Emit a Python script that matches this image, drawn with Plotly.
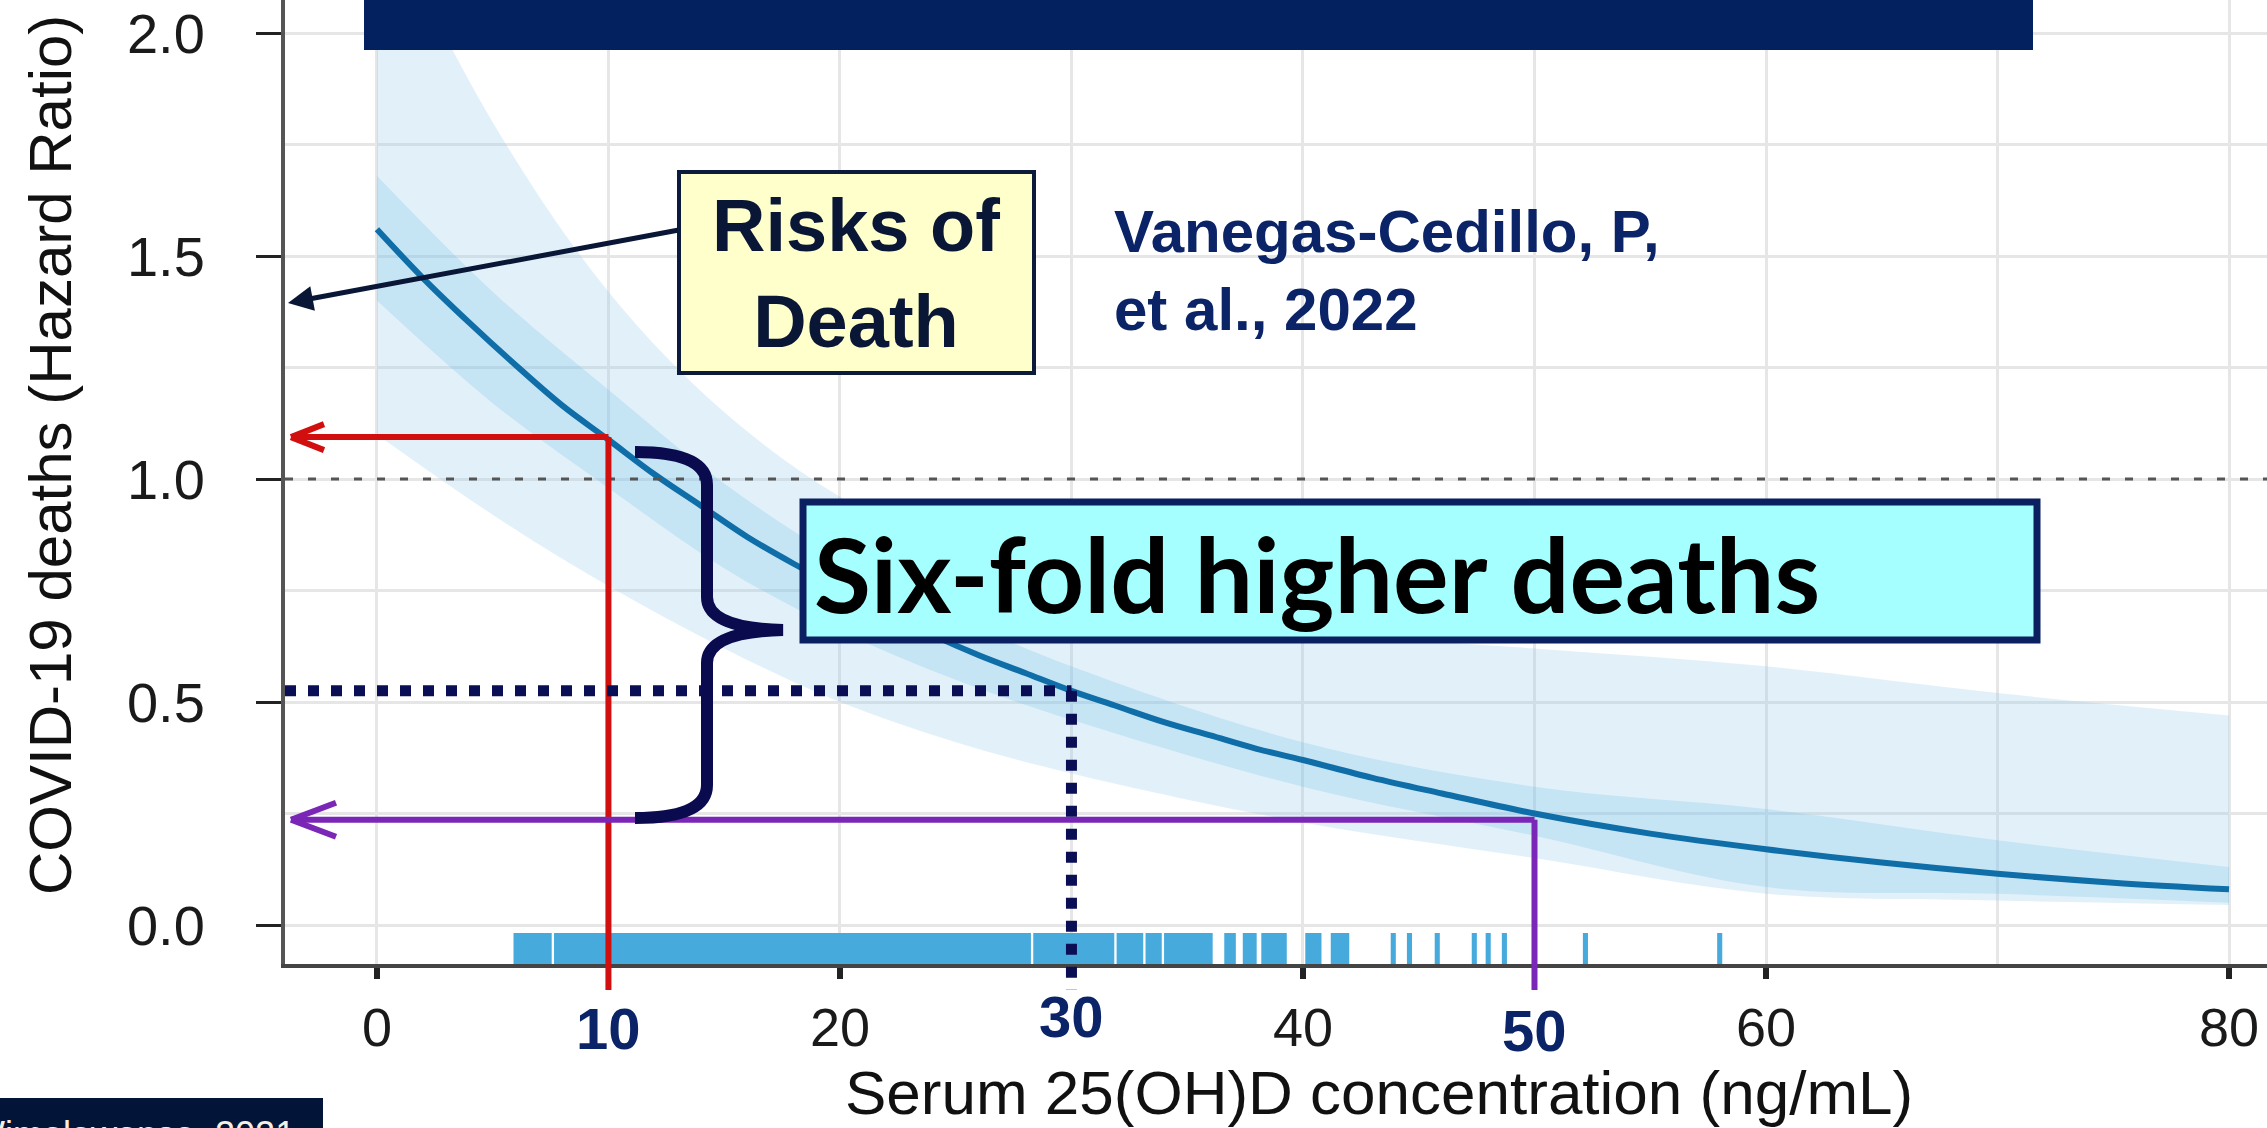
import plotly.graph_objects as go

# fitted curve (hazard ratio)
serum = [0, 2, 4, 6, 8, 10, 12, 14, 16, 18, 20, 22, 24, 26, 28, 30, 32, 34, 36, 38, 40, 43, 46, 50, 55, 60, 65, 70, 75, 80]
hr = [1.56, 1.45, 1.35, 1.255, 1.165, 1.088, 1.01, 0.94, 0.87, 0.81, 0.755, 0.70, 0.65, 0.605, 0.565, 0.525,
      0.49, 0.455, 0.425, 0.395, 0.37, 0.33, 0.295, 0.25, 0.205, 0.17, 0.14, 0.115, 0.095, 0.08]

# confidence bands
band_x = [0, 5, 10, 15, 20, 25, 30, 40, 50, 60, 70, 80]
outer_hi = [2.30, 1.80, 1.42, 1.15, 0.96, 0.83, 0.74, 0.66, 0.62, 0.58, 0.52, 0.47]
outer_lo = [1.10, 0.92, 0.76, 0.62, 0.50, 0.41, 0.34, 0.23, 0.15, 0.07, 0.055, 0.045]
inner_hi = [1.68, 1.42, 1.20, 0.99, 0.82, 0.69, 0.58, 0.41, 0.31, 0.26, 0.19, 0.13]
inner_lo = [1.40, 1.17, 0.98, 0.80, 0.66, 0.55, 0.46, 0.31, 0.20, 0.085, 0.07, 0.05]

# rug of observed concentrations (dense stretches + single ticks)
rug_start = [5.9, 7.65, 28.35, 31.95, 33.2, 34.0, 36.6, 37.4, 38.2, 40.1, 41.2]
rug_end = [7.55, 28.25, 31.85, 33.1, 33.9, 36.1, 37.1, 38.0, 39.3, 40.8, 42.0]
rug_single = [43.9, 44.6, 45.8, 47.4, 48.0, 48.7, 52.2, 58.0]

x_ticks = [0, 20, 40, 60, 80]
x_marks = [10, 30, 50]
hr_at_mark = {10: 1.094, 30: 0.525, 50: 0.236}

W, H = 2267, 1128
PL, PR, PT, PB = 285, 2267, 0, 964
X_RANGE = [-3.97, 81.64]
Y_RANGE = [-0.0874, 2.074]


def px_x(p):
    return X_RANGE[0] + (p - PL) / (PR - PL) * (X_RANGE[1] - X_RANGE[0])


def px_y(p):
    return Y_RANGE[1] - (p - PT) / (PB - PT) * (Y_RANGE[1] - Y_RANGE[0])


def pap_x(p):
    return (p - PL) / (PR - PL)


def pap_y(p):
    return (PB - p) / (PB - PT)


def yv_pap(v):
    return (v - Y_RANGE[0]) / (Y_RANGE[1] - Y_RANGE[0])


FONT = "Liberation Sans, Arial, sans-serif"
NAVY = "#0b2468"

fig = go.Figure()

fig.add_trace(go.Scatter(x=band_x, y=outer_hi, mode="lines", line=dict(width=0, shape="spline"), hoverinfo="skip"))
fig.add_trace(go.Scatter(x=band_x, y=outer_lo, mode="lines", line=dict(width=0, shape="spline"),
                         fill="tonexty", fillcolor="rgba(150,205,235,0.28)", hoverinfo="skip"))
fig.add_trace(go.Scatter(x=band_x, y=inner_hi, mode="lines", line=dict(width=0, shape="spline"), hoverinfo="skip"))
fig.add_trace(go.Scatter(x=band_x, y=inner_lo, mode="lines", line=dict(width=0, shape="spline"),
                         fill="tonexty", fillcolor="rgba(120,195,235,0.27)", hoverinfo="skip"))

# rug
rug_top = px_y(933)
centers = [(a + b) / 2 for a, b in zip(rug_start, rug_end)] + rug_single
widths = [b - a for a, b in zip(rug_start, rug_end)] + [0.22] * len(rug_single)
fig.add_trace(go.Bar(x=centers, y=[rug_top - Y_RANGE[0]] * len(centers), base=Y_RANGE[0], width=widths,
                     marker=dict(color="#47aadd", line=dict(width=0)), hoverinfo="skip"))

fig.add_trace(go.Scatter(x=serum, y=hr, mode="lines", line=dict(color="#0f6ea8", width=6, shape="spline")))

shapes = []
# reference line at HR = 1
shapes.append(dict(type="line", xref="paper", yref="y", x0=0, x1=1, y0=1, y1=1,
                   line=dict(color="#555", width=3, dash="8px,15px")))
# top banner
shapes.append(dict(type="rect", xref="paper", yref="paper", x0=pap_x(364), x1=pap_x(2033), y0=pap_y(50),
                   y1=pap_y(-5), fillcolor="#03215f", line=dict(width=0)))
# boxes
shapes.append(dict(type="rect", xref="x", yref="y", x0=px_x(679), x1=px_x(1034), y0=px_y(373), y1=px_y(172),
                   fillcolor="#ffffcc", line=dict(color="#0c1a3c", width=4)))
shapes.append(dict(type="rect", xref="x", yref="y", x0=px_x(803), x1=px_x(2037), y0=px_y(640), y1=px_y(502),
                   fillcolor="#a6ffff", line=dict(color="#0a2060", width=7)))

bottom_px = 990
tip_x = px_x(291)
# red (10 ng/mL) and purple (50 ng/mL) read-offs with open arrowheads
for xv, col, lw, arm_dx, arm_dy in [(10, "#d10f0f", 6, 33, 13), (50, "#7a26b6", 6, 45, 17)]:
    yv = hr_at_mark[xv]
    shapes.append(dict(type="line", xref="x", yref="paper", x0=xv, x1=xv, y0=pap_y(bottom_px), y1=yv_pap(yv),
                       line=dict(color=col, width=lw)))
    shapes.append(dict(type="line", xref="x", yref="y", x0=tip_x, x1=xv, y0=yv, y1=yv,
                       line=dict(color=col, width=lw)))
    for s in (-1, 1):
        shapes.append(dict(type="line", xref="x", yref="y", x0=tip_x, y0=yv, x1=px_x(291 + arm_dx),
                           y1=yv + s * (Y_RANGE[1] - Y_RANGE[0]) * arm_dy / (PB - PT),
                           line=dict(color=col, width=lw)))

# navy dotted at 30 ng/mL
yv = hr_at_mark[30]
shapes.append(dict(type="line", xref="x", yref="y", x0=px_x(285), x1=30, y0=yv, y1=yv,
                   line=dict(color="#0a0f55", width=11, dash="11px,12px")))
shapes.append(dict(type="line", xref="x", yref="paper", x0=30, x1=30, y0=yv_pap(yv), y1=pap_y(bottom_px),
                   line=dict(color="#0a0f55", width=11, dash="11px,12px")))

# curly brace
pts = [(635, 452), (707, 452), (707, 485), (707, 597), (707, 628), (783, 630), (707, 632), (707, 663),
       (707, 785), (707, 818), (635, 818)]
c = [(px_x(a), px_y(b)) for a, b in pts]
path = ("M{0[0]},{0[1]} Q{1[0]},{1[1]} {2[0]},{2[1]} L{3[0]},{3[1]} Q{4[0]},{4[1]} {5[0]},{5[1]} "
        "Q{6[0]},{6[1]} {7[0]},{7[1]} L{8[0]},{8[1]} Q{9[0]},{9[1]} {10[0]},{10[1]}").format(*c)
shapes.append(dict(type="path", xref="x", yref="y", path=path, line=dict(color="#0a0a4e", width=12)))

# bottom-left source tag
shapes.append(dict(type="rect", xref="paper", yref="paper", x0=pap_x(-5), x1=pap_x(323), y0=pap_y(1140),
                   y1=pap_y(1098), fillcolor="#021539", line=dict(width=0)))

ann = []
ann.append(dict(xref="x", yref="y", x=px_x(288), y=px_y(303), ax=px_x(679), ay=px_y(230), axref="x", ayref="y",
                text="", showarrow=True, arrowhead=2, arrowsize=1, arrowwidth=5, arrowcolor="#0a1636"))
ann.append(dict(xref="x", yref="y", x=px_x(856), y=px_y(273), text="<b>Risks of<br>Death</b>", showarrow=False,
                xanchor="center", yanchor="middle", align="center",
                font=dict(family=FONT, size=74, color="#0a1636")))
ann.append(dict(xref="x", yref="y", x=px_x(1112), y=px_y(270), xanchor="left", yanchor="middle", align="left",
                showarrow=False, text="<b>Vanegas-Cedillo, P,<br>et al., 2022</b>",
                font=dict(family=FONT, size=60, color=NAVY)))
ann.append(dict(xref="x", yref="y", x=px_x(812), y=px_y(572), xanchor="left", yanchor="middle", showarrow=False,
                text="<b>Six-fold higher deaths</b>",
                font=dict(family="Lato, Noto Sans, sans-serif", size=104, color="#000000")))
for xv, ypx in zip(x_marks, [1028, 1016, 1030]):
    ann.append(dict(xref="x", yref="paper", x=xv, y=pap_y(ypx), xanchor="center", yanchor="middle",
                    showarrow=False, text="<b>%d</b>" % xv, font=dict(family=FONT, size=58, color=NAVY)))
ann.append(dict(xref="paper", yref="paper", x=pap_x(1379), y=pap_y(1092), xanchor="center", yanchor="middle",
                showarrow=False, text="Serum 25(OH)D concentration (ng/mL)",
                font=dict(family=FONT, size=62, color="#111")))
ann.append(dict(xref="paper", yref="paper", x=pap_x(50), y=pap_y(455), xanchor="center", yanchor="middle",
                showarrow=False, textangle=-90, text="COVID-19 deaths (Hazard Ratio)",
                font=dict(family=FONT, size=60, color="#111")))
ann.append(dict(xref="paper", yref="paper", x=pap_x(297), y=pap_y(1134), xanchor="right", yanchor="middle",
                showarrow=False, text="Wimalawansa, 2021", font=dict(family=FONT, size=36, color="#f5f0e1")))

fig.update_layout(
    width=W, height=H,
    margin=dict(l=PL, r=W - PR, t=PT, b=H - PB, autoexpand=False),
    plot_bgcolor="white", paper_bgcolor="white",
    showlegend=False,
    font=dict(family=FONT, color="#1a1a1a"),
    shapes=shapes, annotations=ann,
    xaxis=dict(range=X_RANGE, tickmode="array", tickvals=x_ticks, ticks="outside", ticklen=11, tickwidth=6,
               tickcolor="#222", showline=True, linecolor="#444", linewidth=4, zeroline=False,
               showgrid=True, gridcolor="#e6e6e6", gridwidth=3, tickfont=dict(size=54, color="#1a1a1a"),
               ticklabelstandoff=2,
               minor=dict(tickvals=[10, 30, 50, 70], showgrid=True, gridcolor="#e6e6e6", gridwidth=3, ticks="")),
    yaxis=dict(range=Y_RANGE, tick0=0, dtick=0.5, tickformat=".1f", ticks="outside", ticklen=25, tickwidth=3,
               tickcolor="#222", showline=True, linecolor="#555", linewidth=4, zeroline=False,
               showgrid=True, gridcolor="#e6e6e6", gridwidth=3, tickfont=dict(size=56, color="#1a1a1a"),
               ticklabelstandoff=40,
               minor=dict(dtick=0.25, tick0=0, showgrid=True, gridcolor="#e6e6e6", gridwidth=3, ticks="")),
)

fig.write_html("out.html", config={"displayModeBar": False},
               post_script="document.body.style.margin='0';document.body.style.overflow='hidden';")
